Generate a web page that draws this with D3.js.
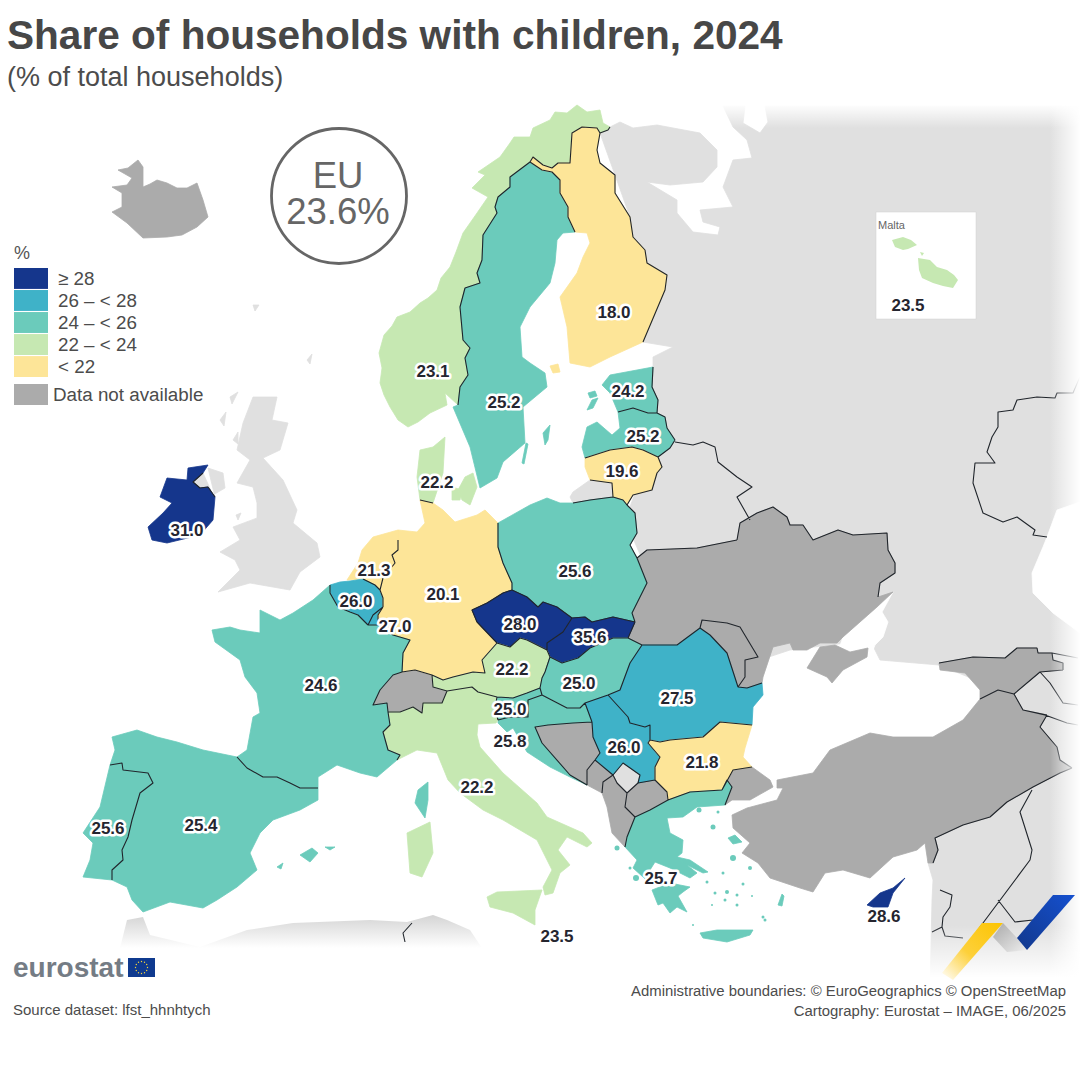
<!DOCTYPE html>
<html>
<head>
<meta charset="utf-8">
<script src="https://cdn.jsdelivr.net/npm/d3@7"></script>
<style>
  html, body { margin: 0; background: #fff; }
  svg { display: block; }
  text { font-family: "Liberation Sans", Arial, sans-serif; }
</style>
</head>
<body>
<svg id="map" width="1080" height="1080"></svg>
<script>
// chart values
const countryCodes = ['NO','SE','FI','EE','LV','LT','DK','NL','BE','LU','DE','PL','CZ','SK','AT','HU','SI','HR','RO','RS','BG','IT','EL','FR','PT','ES','IE','CY'];
const countryValues = [23.1,25.2,18.0,24.2,25.2,19.6,22.2,21.3,26.0,27.0,20.1,25.6,28.0,35.6,22.2,25.0,25.0,25.8,27.5,26.0,21.8,22.2,25.7,24.6,25.6,25.4,31.0,28.6];
const maltaValue = 23.5;
const euValue = 23.6;
const classBreaks = [22, 24, 26, 28];
const classColors = ['#fde598', '#c6e8b2', '#6bcbbb', '#3fb2c8', '#15368c'];
const legendLabels = ['≥ 28', '26 – < 28', '24 – < 26', '22 – < 24', '< 22'];
const noDataColor = '#ababab';
const contextColor = '#e0e0e0';

// shared land borders, in map units
const noSe = [[530,162],[510,177],[510,187],[498,197],[495,207],[497,213],[483,235],[482,260],[477,273],[480,283],[465,288],[460,307],[463,340],[470,348],[465,358],[468,375],[460,387],[458,405]];
const seFi = [[575,232],[568,217],[568,207],[560,193],[560,180],[552,172],[542,170],[530,162]];
const noFi = [[530,162],[533,157],[543,165],[552,168],[558,163],[570,163],[572,133],[582,127],[597,128],[600,133]];
const ruNo = [[600,133],[608,130],[610,127]];
const fiRu = [[600,133],[597,150],[600,163],[615,175],[615,193],[630,217],[633,237],[645,250],[647,263],[667,275],[665,290],[643,342]];
const eeRu = [[653,367],[652,387],[658,400],[657,413]];
const eeLv = [[618,412],[633,408],[648,413],[657,413]];
const lvRu = [[657,413],[665,417],[667,428],[675,440]];
const lvBy = [[675,440],[670,448],[658,457]];
const lvLt = [[585,458],[610,450],[632,447],[643,450],[658,457]];
const ltBy = [[658,457],[662,467],[657,473],[652,490],[633,495],[627,505]];
const ltPl = [[613,497],[623,500],[627,505]];
const ltKa = [[590,480],[612,483],[613,497]];
const plKa = [[613,497],[590,500],[573,503]];
const dePl = [[498,523],[498,547],[503,563],[512,583],[512,590]];
const plCz = [[512,590],[527,597],[538,607],[543,602],[557,607],[572,618]];
const plSk = [[572,618],[585,617],[592,622],[613,617],[635,622]];
const plUa = [[635,622],[632,613],[647,583],[637,558]];
const plBy = [[637,558],[630,545],[637,533],[635,513],[627,505]];
const deDk = [[420,500],[433,503]];
const deNl = [[398,540],[398,550],[392,555],[395,563],[383,578],[380,590]];
const beNl = [[363,579],[375,585],[380,590]];
const deBe = [[380,590],[383,598],[383,607]];
const beLu = [[383,607],[373,615],[368,625]];
const deLu = [[383,607],[378,615],[378,625]];
const luFr = [[378,625],[368,625]];
const beFr = [[368,625],[358,615],[350,612],[338,607],[330,593],[330,585]];
const deCz = [[512,590],[503,593],[487,603],[472,610],[477,622],[497,643]];
const deAt = [[497,643],[482,660],[485,673],[473,672],[453,677],[443,680],[432,675]];
const deCh = [[432,675],[415,670],[402,672]];
const deFr = [[402,672],[403,653],[410,640],[393,635],[378,625]];
const frCh = [[402,672],[393,675],[380,690],[373,705],[387,703],[388,712]];
const frIt = [[388,712],[390,725],[383,732],[388,750],[400,755],[397,760]];
const esFr = [[237,757],[247,768],[263,777],[277,777],[290,783],[300,788],[318,788]];
const esPt = [[110,765],[122,763],[123,770],[148,773],[153,783],[140,793],[132,820],[128,837],[122,850],[123,860],[112,870],[112,880]];
const chIt = [[388,712],[400,712],[413,707],[422,713],[423,703],[442,703],[447,691]];
const atCh = [[432,675],[433,687],[447,691]];
const atIt = [[447,691],[472,687],[478,692],[497,697]];
const atSi = [[497,697],[513,698],[527,693],[540,688]];
const atHu = [[540,688],[542,678],[545,672],[550,657]];
const atSk = [[550,657],[547,650]];
const atCz = [[547,650],[527,640],[520,638],[510,647],[497,643]];
const czSk = [[572,618],[563,632],[547,643],[547,650]];
const skUa = [[635,622],[628,638]];
const skHu = [[628,638],[613,638],[590,648],[578,658],[562,663],[550,657]];
const huUa = [[628,638],[642,645]];
const huRo = [[642,645],[630,663],[620,690],[608,695]];
const huRs = [[608,695],[585,703]];
const huHr = [[585,703],[580,708],[567,708],[542,695]];
const huSi = [[542,695],[540,688]];
const siHr = [[498,720],[510,717],[528,717],[528,700],[542,695]];
const itSi = [[497,697],[495,708],[498,720]];
const roUa1 = [[642,645],[677,645],[700,628]];
const roMd = [[700,628],[710,635],[727,653],[738,687]];
const roUa2 = [[738,687],[747,688],[762,683]];
const roBg = [[752,725],[720,722],[703,737],[670,740],[660,742],[650,740]];
const roRs = [[650,740],[650,733],[650,725],[645,727],[630,723],[628,717],[608,695]];
const bgRs = [[650,740],[648,743],[660,757],[655,767],[655,780]];
const bgMk = [[655,780],[667,792],[668,800]];
const bgGr = [[668,800],[690,792],[722,790]];
const bgTr = [[722,790],[733,770],[752,767]];
const rsMk = [[655,780],[638,783]];
const rsKo = [[638,783],[640,775],[623,763],[613,775]];
const rsMe = [[613,775],[595,760]];
const rsBa = [[595,760],[600,753],[593,737],[592,722]];
const rsHr = [[592,722],[585,703]];
const koMk = [[638,783],[627,793]];
const koAl = [[627,793],[617,783],[613,775]];
const mkGr = [[668,800],[650,810],[635,817]];
const mkAl = [[635,817],[625,807],[627,793]];
const meAl = [[613,775],[603,782],[602,793]];
const baMe = [[587,785],[587,770],[595,760]];
const baHr = [[587,785],[570,775],[542,743],[535,727],[548,725],[573,723],[592,722]];
const alGr = [[625,847],[627,837],[635,817]];
const grTr = [[722,790],[727,780],[732,787],[725,805]];
const mdUa = [[700,628],[702,620],[727,623],[740,627],[758,657],[745,660],[745,677],[738,687]];
const uaRu = [[878,597],[880,583],[895,573],[895,563],[888,550],[887,533],[853,535],[838,530],[813,540],[803,525],[790,525],[787,517],[773,507],[757,513],[740,523],[737,540]];
const uaBy = [[737,540],[697,548],[647,550],[637,558]];
const ieNi = [[203,473],[193,482],[200,488],[208,487],[215,497]];
const trGe = [[980,699],[998,690],[1014,694]];
const trAm = [[1014,694],[1023,710],[1047,715]];
const trIr = [[1047,715],[1040,727],[1057,747],[1060,760],[1072,768]];
const trSy = [[1072,768],[1060,773],[1033,787],[1007,802],[990,817],[963,825],[935,838],[938,850],[933,863]];
const ruGe = [[939,663],[973,657],[1005,658],[1017,648],[1037,648],[1038,653],[1052,653],[1053,660],[1063,663],[1063,670]];
const geSouth = [[1063,670],[1040,672],[1014,694]];

// context lines on the pale background
const kzRu = [[1080,377],[1073,393],[1057,393],[1055,398],[1037,397],[1017,400],[1013,410],[998,412],[998,427],[992,437],[987,452],[995,463],[975,463],[973,483],[983,513],[1003,522],[1017,517],[1035,530],[1033,535],[1047,537]];
const byRu = [[675,442],[693,445],[703,442],[715,447],[718,462],[737,477],[752,487],[737,497],[750,520]];
const syIq = [[1032,790],[1020,812],[1032,850],[1030,860],[980,927],[968,945]];
const joIq = [[998,900],[1015,922],[1033,920]];
const levant = [[940,890],[952,895],[950,907],[943,917],[942,927],[932,932]];
const levantB = [[942,927],[945,936],[963,938]];
const caucasusA = [[1040,672],[1050,683],[1063,703],[1078,705]];
const caucasusB = [[1023,710],[1045,715],[1067,723],[1078,725]];
const caucasusC = [[1052,653],[1078,658]];
const algeriaTunisia = [[412,923],[403,933],[405,942]];

const rev = a => a.slice().reverse();

// country outlines, made of coast points and the shared borders above
const ringNO = [...noSe,[445,393],[447,405],[430,413],[418,422],[408,427],[398,420],[390,407],[384,395],[380,383],[382,368],[379,353],[384,335],[392,326],[397,317],[410,312],[420,303],[428,298],[437,290],[441,278],[450,267],[456,252],[463,233],[477,213],[488,197],[472,188],[485,175],[478,172],[500,157],[510,143],[514,137],[530,137],[533,128],[550,120],[555,112],[567,113],[577,105],[587,112],[600,110],[603,123],...rev(ruNo),...rev(noFi)];
const ringSE = [...seFi,...noSe,[453,407],[470,447],[480,488],[497,478],[503,462],[525,443],[523,407],[547,387],[545,373],[530,363],[522,357],[520,327],[530,307],[550,283],[555,263],[557,240],[563,233]];
const ringGotland = [[543,433],[550,425],[548,440],[545,445]];
const ringOland = [[522,463],[526,443],[528,444],[524,464]];
const ringFI = [...seFi,...noFi,...fiRu,[610,357],[590,367],[570,363],[567,327],[560,297],[577,273],[583,257],[590,243],[587,233]];
const ringAland = [[550,366],[558,364],[560,372],[553,373]];
const ringEE = [[602,385],[610,375],[637,370],...eeRu,...rev(eeLv),[610,393]];
const ringSaaremaa = [[587,410],[592,400],[598,398],[593,408]];
const ringHiiumaa = [[588,393],[595,391],[597,396],[590,398]];
const ringLV = [...eeLv,...lvRu,...lvBy,...rev(lvLt),[582,447],[587,427],[597,422],[612,435],[620,428]];
const ringLT = [...lvLt,...ltBy,...rev(ltPl),...rev(ltKa),[585,467]];
const ringKa = [[573,492],...ltKa,...plKa.slice(1),[570,497]];
const ringDK = [[420,450],[417,477],...deDk,[443,473],[445,437],[433,447]];
const ringFunen = [[452,487],[462,490],[460,500],[452,500]];
const ringZealand = [[465,477],[473,473],[477,487],[470,505],[462,500],[458,490]];
const ringDE = [...deDk,[443,510],[455,522],[477,515],[485,510],...dePl,...deCz,...deAt,...deCh,...deFr,...rev(deLu),...rev(deBe),...rev(deNl),[398,530],[417,532],[425,523]];
const ringNL = [[398,530],...deNl,...rev(beNl),[347,580],[358,563],[362,550],[373,537]];
const ringBE = [[340,582],[350,581],...beNl,...deBe,...beLu,...beFr];
const ringLU = [...deLu,...luFr,...rev(beLu)];
const ringPL = [...dePl,...plCz,...plSk,...plUa,...plBy,...rev(ltPl),...plKa,[560,503],[547,498],[530,505]];
const ringCZ = [...rev(deCz),...plCz,...czSk,...rev(atCz)];
const ringSK = [...plSk,...skUa,...skHu,...atSk,...rev(czSk)];
const ringAT = [...deAt,...atCh,...atIt,...atSi,...atHu,...atSk,...atCz];
const ringHU = [...rev(skHu),...huUa,...huRo,...huRs,...huHr,...huSi,...rev(atHu)];
const ringSI = [...atSi,...rev(huSi),...rev(siHr),...rev(itSi)];
const ringHR = [...rev(huHr),...rev(rsHr),...rev(baHr),[572,778],[550,767],[527,752],[513,728],[507,732],[498,723],...siHr];
const ringRO = [...rev(huRo),...roUa1,...roMd,...roUa2,[763,695],[753,707],...roBg,...roRs];
const ringRS = [...rev(huRs),...rev(roRs),...bgRs,...rsMk,...rsKo,...rsMe,...rsBa,...rsHr];
const ringBG = [...roBg,...bgRs,...bgMk,...bgGr,...bgTr,[743,757],[745,748]];
const ringIT = [...chIt,...atIt,...itSi,[496,723],[478,724],[477,735],[480,747],[503,773],[537,803],[547,817],[583,833],[592,843],[587,847],[567,837],[558,850],[570,865],[560,873],[553,893],[545,895],[543,887],[552,870],[537,840],[503,820],[483,810],[460,793],[448,780],[437,753],[417,750],...rev(frIt)];
const ringSicily = [[487,897],[497,892],[542,890],[535,910],[535,925],[513,913],[490,907]];
const ringSardinia = [[407,833],[430,822],[433,853],[422,877],[410,873]];
const ringGR = [...rev(mkGr),...bgGr,...grTr,[697,807],[683,817],[667,818],[670,833],[683,840],[682,853],[677,857],[697,873],[690,878],[670,868],[655,862],[650,870],[665,880],[652,885],[643,877],[633,868],[637,860],...alGr];
const ringPeloponnese = [[652,890],[670,883],[690,887],[683,892],[678,896],[687,912],[677,907],[670,913],[663,903],[658,905]];
const ringEuboea = [[677,857],[690,860],[708,872],[703,873],[683,863]];
const ringCrete = [[700,933],[717,930],[753,930],[750,935],[727,942],[703,938]];
const ringRhodes = [[778,905],[782,894],[784,896],[782,906]];
const ringLesbos = [[728,838],[735,835],[742,842],[733,844]];
const ringFR = [...rev(beFr),...rev(luFr),...rev(deFr),...frCh,...frIt,[377,777],[360,773],[337,765],[318,777],...rev(esFr),[247,750],[253,717],[260,713],[257,693],[245,677],[240,660],[215,642],[212,630],[230,627],[240,630],[260,633],[260,610],[280,620],[293,613],[313,600]];
const ringCorsica = [[418,790],[428,782],[428,800],[425,818],[415,803]];
const ringES = [[115,750],[112,737],[137,730],[157,737],[177,742],[203,750],...esFr,[318,800],[300,810],[273,820],[260,833],[250,853],[257,870],[237,887],[217,900],[203,908],[170,902],[143,912],[132,900],[127,887],...rev(esPt)];
const ringMallorca = [[300,855],[312,848],[318,853],[310,862]];
const ringMenorca = [[325,847],[335,847],[330,850]];
const ringIbiza = [[277,867],[283,863],[281,869]];
const ringPT = [...esPt,[83,877],[90,860],[93,843],[83,833],[100,807]];
const ringIE = [[148,527],[163,513],[172,503],[160,497],[167,478],[187,480],[188,468],[208,465],...ieNi,[213,520],[200,535],[167,543],[152,540]];
const ringCY = [[867,905],[880,893],[893,888],[905,878],[893,893],[888,907],[873,907]];

const countryRings = [[ringNO],[ringSE,ringGotland,ringOland],[ringFI,ringAland],[ringEE,ringSaaremaa,ringHiiumaa],[ringLV],[ringLT],[ringDK,ringFunen,ringZealand],[ringNL],[ringBE],[ringLU],[ringDE],[ringPL],[ringCZ],[ringSK],[ringAT],[ringHU],[ringSI],[ringHR],[ringRO],[ringRS],[ringBG],[ringIT,ringSicily,ringSardinia],[ringGR,ringPeloponnese,ringEuboea,ringCrete,ringRhodes,ringLesbos],[ringFR,ringCorsica],[ringPT],[ringES,ringMallorca,ringMenorca,ringIbiza],[ringIE],[ringCY]];

// countries with no data
const ringIS = [[118,170],[128,168],[138,160],[143,167],[143,187],[150,184],[157,180],[167,183],[177,188],[187,188],[197,183],[203,200],[208,217],[197,227],[182,235],[167,237],[143,238],[127,223],[112,212],[122,207],[122,193],[112,187],[127,185],[132,178]];
const ringCH = [...deCh,...frCh,...chIt,...rev(atCh)];
const ringUA = [...rev(plUa),...skUa,...huUa,...roUa1,...mdUa,...roUa2,[763,677],[773,647],[790,643],[793,650],[807,650],[820,643],[837,643],[843,637],[877,607],[893,592],...uaRu,...uaBy];
const ringCrimea = [[807,668],[820,647],[835,645],[850,652],[868,648],[867,657],[843,670],[832,683],[827,677]];
const ringMD = [...roMd,...rev(mdUa)];
const ringBA = [...rev(rsBa),...rev(baMe),...baHr];
const ringME = [...rev(rsMe),...meAl,...baMe];
const ringAL = [...meAl,[607,807],[612,833],...alGr,...mkAl,...koAl];
const ringMK = [...bgMk,...mkGr,...mkAl,...rev(koMk),...rev(rsMk)];
const ringThrace = [...rev(bgTr),...grTr,[732,800],[750,800],[773,787],[770,780]];
const ringAnatolia = [[777,780],[813,773],[830,750],[870,733],[893,737],[933,737],[963,720],...trGe,...trAm,...trIr,...trSy,[928,863],[925,843],[917,850],[893,857],[870,878],[843,870],[825,873],[813,892],[800,888],[770,878],[758,863],[742,853],[750,843],[733,828],[732,815],[747,808],[777,800],[783,788],[777,788]];
const ringGE = [...ruGe,...geSouth,...rev(trGe),[980,690],[965,673],[940,670]];
const noDataRings = [ringIS,ringCH,ringUA,ringCrimea,ringMD,ringBA,ringME,ringAL,ringMK,ringThrace,ringAnatolia,ringGE];

// pale neighbours
const ringBackground = [[603,127],[610,127],[620,122],[633,128],[657,125],[700,133],[717,150],[717,167],[703,182],[670,185],[647,182],[677,200],[677,213],[693,232],[718,235],[720,227],[703,222],[700,210],[733,207],[723,187],[733,160],[752,158],[747,140],[733,127],[723,106],[745,106],[743,123],[760,133],[768,122],[765,106],[1080,106],[1080,990],[930,990],[932,900],[933,880],[928,863],[950,800],[1040,740],[1000,690],[939,665],[880,660],[870,640],[790,650],[760,660],[700,640],[660,600],[625,520],[640,480],[660,440],[650,400],[653,367],[653,357],[673,347],[643,342],[630,217],[600,133]];
const ringAzov = [[843,637],[877,607],[893,592],[882,612],[888,622],[883,637],[875,645],[873,650],[835,660]];
const ringCaspian = [[1080,502],[1057,510],[1047,537],[1043,547],[1032,573],[1033,593],[1053,613],[1080,633]];
const ringGB = [[253,397],[277,397],[272,420],[288,423],[280,450],[263,458],[283,480],[297,510],[293,523],[317,543],[320,557],[300,572],[290,590],[250,583],[218,592],[240,570],[235,560],[220,552],[240,540],[233,527],[257,518],[257,503],[253,487],[237,483],[250,460],[237,450],[243,423]];
const ringNI = [...rev(ieNi),[213,495],[225,488],[223,473],[208,468]];
const ringKosovo = [...rev(rsKo),...koMk,...koAl];
const ringsHebrides = [[[230,397],[238,392],[232,404]],[[220,420],[226,412],[224,426]],[[233,440],[238,432],[238,444]],[[307,360],[312,354],[310,364]],[[253,305],[259,305],[255,311]],[[236,515],[241,513],[238,520]]];
const contextRings = [ringGB,ringNI,ringKosovo,ringKa,...ringsHebrides];
const ringAfrica = [[120,948],[127,920],[143,917],[150,935],[200,947],[247,930],[293,923],[370,920],[407,922],[433,915],[447,920],[470,930],[482,948]];
const ringGozo = [[892,240],[903,237],[911,240],[917,245],[908,249],[903,250],[895,247]];
const ringComino = [[920,252],[924,253],[922,256]];
const ringMalta = [[918,258],[930,260],[937,267],[947,270],[954,275],[958,280],[953,288],[943,286],[933,283],[922,278],[919,270]];

// small Aegean and Ionian islands, x, y, size
const smallIslands = [[713,827,2.5],[699,810,2.5],[718,812,1.5],[733,858,3],[750,868,2],[727,892,2],[737,895,1.5],[715,893,1.5],[707,882,1.5],[723,873,1.5],[763,917,1.5],[737,905,1.5],[725,900,1.5],[636,878,3],[693,925,1],[617,848,2.5],[765,920,1.5],[743,884,1.5],[752,896,1],[712,905,1],[630,868,1.5]];

const borderLines = [noSe,seFi,noFi,ruNo,fiRu,eeRu,eeLv,lvRu,lvBy,lvLt,ltBy,ltPl,ltKa,plKa,dePl,plCz,plSk,plUa,plBy,deDk,deNl,beNl,deBe,beLu,deLu,luFr,beFr,deCz,deAt,deCh,deFr,frCh,frIt,esFr,esPt,chIt,atCh,atIt,atSi,atHu,atSk,atCz,czSk,skUa,skHu,huUa,huRo,huRs,huHr,huSi,siHr,itSi,roUa1,roMd,roUa2,roBg,roRs,bgRs,bgMk,bgGr,bgTr,rsMk,rsKo,rsMe,rsBa,rsHr,koMk,koAl,mkGr,mkAl,meAl,baMe,baHr,alGr,grTr,mdUa,uaRu,uaBy,ieNi,trGe,trAm,trIr,trSy,ruGe,geSouth,kzRu,byRu,syIq,joIq,levant,levantB,caucasusA,caucasusB,caucasusC,algeriaTunisia];

// where each value label sits on the map, same order as countryCodes
const labelSpots = [[433,371],[504,402],[614,312],[628,391],[643,436],[622,471],[437,482],[374,570],[356,601],[395,626],[443,594],[575,571],[520,624],[590,637],[512,669],[579,683],[510,709],[510,741],[677,698],[624,747],[702,762],[477,787],[661,878],[321,685],[108,828],[201,825],[187,530],[884,916]];

const svg = d3.select('#map');
const defs = svg.append('defs');

function gradient(id, x1, y1, x2, y2, stops) {
  const g = defs.append('linearGradient').attr('id', id)
    .attr('x1', x1).attr('y1', y1).attr('x2', x2).attr('y2', y2);
  stops.forEach(s => g.append('stop').attr('offset', s[0]).attr('stop-color', s[1]).attr('stop-opacity', s[2] === undefined ? 1 : s[2]));
}
gradient('fadeRight', 0, 0, 1, 0, [[0,'#fff',0],[1,'#fff',1]]);
gradient('fadeTop', 0, 1, 0, 0, [[0,'#fff',0],[1,'#fff',1]]);
gradient('fadeBottom', 0, 0, 0, 1, [[0,'#fff',0],[0.75,'#fff',1],[1,'#fff',1]]);
gradient('africa', 0, 0, 0, 1, [[0,'#d4d4d4'],[1,'#ffffff']]);
gradient('logoBlue', 1, 0, 0, 1, [[0,'#1550cf'],[1,'#12388c']]);
gradient('logoGrey', 0, 0, 1, 1, [[0,'#a9a9a9'],[1,'#eeeeee']]);
gradient('logoYellow', 1, 0, 0, 1, [[0,'#fcc400'],[0.55,'#fdd03a'],[1,'#ffffff']]);

const geoPath = d3.geoPath(d3.geoIdentity());
const closed = r => r.concat([r[0]]);
const polygon = rings => ({type: 'MultiPolygon', coordinates: rings.map(r => [closed(r)])});
const colour = d3.scaleThreshold().domain(classBreaks).range(classColors);

const mapLayer = svg.append('g');
const drawLand = (rings, fill) => mapLayer.append('path').attr('d', geoPath(polygon(rings))).attr('fill', fill)
  .attr('stroke', fill.startsWith('#') ? fill : 'none').attr('stroke-width', 0.8).attr('stroke-linejoin', 'round');

drawLand([ringAfrica], 'url(#africa)');
drawLand([ringBackground], contextColor);
drawLand([ringAzov, ringCaspian], '#fff');
contextRings.forEach(r => drawLand([r], contextColor));
noDataRings.forEach(r => drawLand([r], noDataColor));

mapLayer.selectAll('path.country')
  .data(countryCodes)
  .join('path')
  .attr('class', 'country')
  .attr('d', (d, i) => geoPath(polygon(countryRings[i])))
  .attr('fill', (d, i) => colour(countryValues[i]))
  .attr('stroke', (d, i) => colour(countryValues[i]))
  .attr('stroke-width', 0.8)
  .attr('stroke-linejoin', 'round');

mapLayer.selectAll('circle.island')
  .data(smallIslands)
  .join('circle')
  .attr('class', 'island')
  .attr('cx', d => d[0])
  .attr('cy', d => d[1])
  .attr('r', d => d[2])
  .attr('fill', colour(25.7));

mapLayer.append('path')
  .attr('d', geoPath({type: 'MultiLineString', coordinates: borderLines}))
  .attr('fill', 'none')
  .attr('stroke', '#20252b')
  .attr('stroke-width', 1.1)
  .attr('stroke-linejoin', 'round');

// fades at the edges of the map
mapLayer.append('rect').attr('x', 1050).attr('y', 95).attr('width', 30).attr('height', 900).attr('fill', 'url(#fadeRight)');
mapLayer.append('rect').attr('x', 720).attr('y', 104).attr('width', 360).attr('height', 24).attr('fill', 'url(#fadeTop)');
mapLayer.append('rect').attr('x', 900).attr('y', 925).attr('width', 180).attr('height', 70).attr('fill', 'url(#fadeBottom)');

// logo ribbons
const logoYellow = [[982,923],[1003,923],[953,980],[942,973]];
const logoGrey = [[1003,923],[993,937],[1007,952],[1027,950],[1017,938]];
const logoBlue = [[1053,895],[1075,895],[1027,950],[1017,938]];
[[logoYellow,'url(#logoYellow)'],[logoGrey,'url(#logoGrey)'],[logoBlue,'url(#logoBlue)']].forEach(p => {
  svg.append('path').attr('d', geoPath(polygon([p[0]]))).attr('fill', p[1]);
});

// value labels
svg.append('g').selectAll('text')
  .data(countryCodes)
  .join('text')
  .attr('x', (d, i) => labelSpots[i][0])
  .attr('y', (d, i) => labelSpots[i][1] + 6)
  .attr('text-anchor', 'middle')
  .attr('font-size', 17)
  .attr('font-weight', 700)
  .attr('fill', '#25252f')
  .attr('stroke', '#fff')
  .attr('stroke-width', d => d === 'CY' ? 0 : 5)
  .attr('stroke-linejoin', 'round')
  .attr('paint-order', 'stroke')
  .text((d, i) => countryValues[i].toFixed(1));

// Malta inset
svg.append('rect').attr('x', 876).attr('y', 212).attr('width', 100).attr('height', 107).attr('fill', '#fff').attr('stroke', '#d0d0d0').attr('stroke-width', 0.5);
svg.append('text').attr('x', 878).attr('y', 229).attr('font-size', 11).attr('fill', '#666').text('Malta');
svg.append('path').attr('d', geoPath(polygon([ringGozo, ringComino, ringMalta]))).attr('fill', colour(maltaValue));
svg.append('text').attr('x', 908).attr('y', 311).attr('text-anchor', 'middle').attr('font-size', 17).attr('font-weight', 700).attr('fill', '#25252f').text(maltaValue.toFixed(1));
svg.append('text').attr('x', 557).attr('y', 942).attr('text-anchor', 'middle').attr('font-size', 17).attr('font-weight', 700).attr('fill', '#25252f').text(maltaValue.toFixed(1));

// title
svg.append('text').attr('x', 7).attr('y', 49).attr('font-size', 40.6).attr('font-weight', 700).attr('fill', '#474747').text('Share of households with children, 2024');
svg.append('text').attr('x', 7).attr('y', 86).attr('font-size', 27).attr('fill', '#4c4c4c').text('(% of total households)');

// EU circle
svg.append('circle').attr('cx', 339).attr('cy', 196).attr('r', 67.5).attr('fill', '#fff').attr('stroke', '#666').attr('stroke-width', 2.8);
svg.append('text').attr('x', 338).attr('y', 188).attr('text-anchor', 'middle').attr('font-size', 36.5).attr('fill', '#666').text('EU');
svg.append('text').attr('x', 338).attr('y', 224).attr('text-anchor', 'middle').attr('font-size', 36.5).attr('fill', '#666').text(euValue + '%');

// legend, top class first
const legendColors = classColors.slice().reverse();
const legendY = d3.scaleBand().domain(legendLabels).range([268, 377]).paddingInner(0.05);
const legend = svg.append('g');
legend.append('text').attr('x', 14).attr('y', 259).attr('font-size', 18).attr('fill', '#555').text('%');
legend.selectAll('rect.cls')
  .data(legendLabels)
  .join('rect')
  .attr('class', 'cls')
  .attr('x', 14)
  .attr('y', d => legendY(d))
  .attr('width', 34)
  .attr('height', legendY.bandwidth())
  .attr('fill', (d, i) => legendColors[i]);
legend.selectAll('text.cls')
  .data(legendLabels)
  .join('text')
  .attr('class', 'cls')
  .attr('x', 58)
  .attr('y', d => legendY(d) + legendY.bandwidth() / 2 + 6.5)
  .attr('font-size', 18.8)
  .attr('fill', '#4c4c4c')
  .text(d => d);
legend.append('rect').attr('x', 14).attr('y', 384).attr('width', 34).attr('height', 21).attr('fill', noDataColor);
legend.append('text').attr('x', 53).attr('y', 401).attr('font-size', 18.8).attr('fill', '#4c4c4c').text('Data not available');

// footer
svg.append('text').attr('x', 13).attr('y', 977).attr('font-size', 28).attr('font-weight', 700).attr('fill', '#747c85').text('eurostat');
svg.append('rect').attr('x', 128).attr('y', 958).attr('width', 27).attr('height', 19).attr('fill', '#0f3a8f');
svg.append('g').selectAll('circle')
  .data(d3.range(12))
  .join('circle')
  .attr('cx', d => 141.5 + 6 * Math.cos(d * Math.PI / 6))
  .attr('cy', d => 967.5 + 6 * Math.sin(d * Math.PI / 6))
  .attr('r', 0.7)
  .attr('fill', '#f4d23c');
svg.append('text').attr('x', 13).attr('y', 1015).attr('font-size', 15).attr('fill', '#4c4c4c').text('Source dataset: lfst_hhnhtych');
svg.append('text').attr('x', 1066).attr('y', 996).attr('text-anchor', 'end').attr('font-size', 14.9).attr('fill', '#4c4c4c').text('Administrative boundaries: © EuroGeographics © OpenStreetMap');
svg.append('text').attr('x', 1066).attr('y', 1016).attr('text-anchor', 'end').attr('font-size', 14.9).attr('fill', '#4c4c4c').text('Cartography: Eurostat – IMAGE, 06/2025');
</script>
</body>
</html>
